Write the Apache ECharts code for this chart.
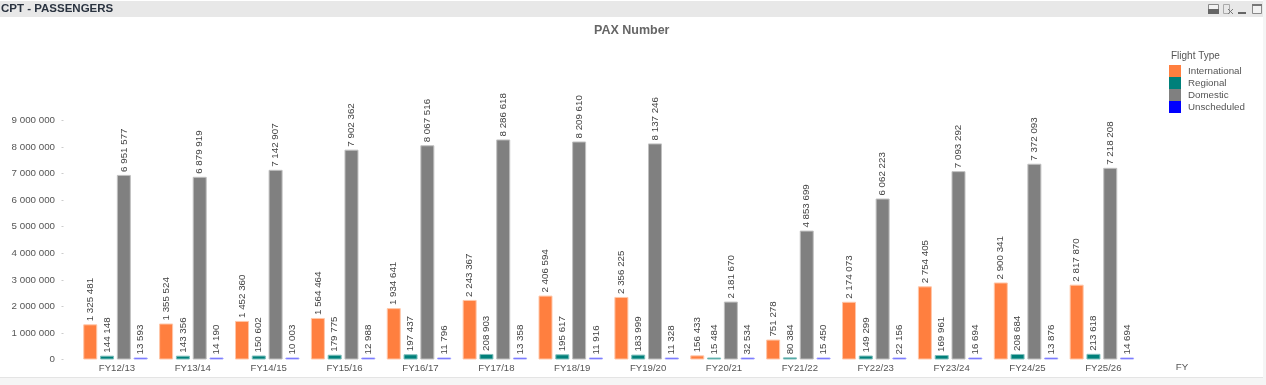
<!DOCTYPE html>
<html>
<head>
<meta charset="utf-8">
<style>
  html, body { margin: 0; padding: 0; background: #fff; }
  #main { width: 1266px; height: 385px; }
</style>
<script src="https://cdn.jsdelivr.net/npm/echarts@6/dist/echarts.min.js"></script>
</head>
<body>
<div id="main"></div>
<script>
const years = ['FY12/13','FY13/14','FY14/15','FY15/16','FY16/17','FY17/18','FY18/19','FY19/20','FY20/21','FY21/22','FY22/23','FY23/24','FY24/25','FY25/26'];
const international = [1325481,1355524,1452360,1564464,1934641,2243367,2406594,2356225,156433,751278,2174073,2754405,2900341,2817870];
const regional = [144148,143356,150602,179775,197437,208903,195617,183999,15484,80384,149299,169961,208684,213618];
const domestic = [6951577,6879919,7142907,7902362,8067516,8286618,8209610,8137246,2181670,4853699,6062223,7093292,7372093,7218208];
const unscheduled = [13593,14190,10003,12988,11796,13358,11916,11328,32534,15450,22156,16694,13876,14694];

const font = '"Liberation Sans", Arial, sans-serif';
const textColor = '#555';

// 1 325 481 style numbers
function spaced(v) {
  return String(v).replace(/\B(?=(\d{3})+$)/g, ' ');
}

function barSeries(name, data, color, edge) {
  return {
    name: name,
    type: 'bar',
    data: data,
    barWidth: 14,
    barGap: '20%',
    barMinHeight: 2,
    itemStyle: { color: color, borderColor: edge, borderWidth: 1 },
    label: {
      show: true,
      position: 'top',
      rotate: 90,
      align: 'left',
      verticalAlign: 'middle',
      distance: 3,
      color: '#444',
      fontFamily: font,
      fontSize: 9.75,
      formatter: p => spaced(p.value)
    }
  };
}

var myChart = echarts.init(document.getElementById('main'), null, { renderer: 'canvas' });
var option = {
  animation: false,
  backgroundColor: '#fff',
  title: {
    text: 'PAX Number',
    left: 589,
    top: 19,
    textStyle: { color: '#666', fontFamily: font, fontSize: 12.5, fontWeight: 'bold' }
  },
  legend: {
    orient: 'vertical',
    left: 1169,
    top: 65,
    padding: 0,
    itemWidth: 12,
    itemHeight: 12,
    itemGap: 0,
    icon: 'rect',
    selectedMode: false,
    itemStyle: { borderWidth: 0 },
    textStyle: { color: textColor, fontFamily: font, fontSize: 9.75, lineHeight: 12, padding: [0, 0, 0, 2] },
    data: ['International', 'Regional', 'Domestic', 'Unscheduled']
  },
  grid: { left: 77.5, top: 120.5, width: 1062.3, height: 239 },
  xAxis: {
    type: 'category',
    data: years,
    name: 'FY',
    nameLocation: 'end',
    nameGap: 36,
    nameTextStyle: { color: textColor, fontFamily: font, fontSize: 9.75, verticalAlign: 'top', padding: [3, 0, 0, 0] },
    axisLine: { show: false },
    axisTick: { show: false },
    axisLabel: { color: textColor, fontFamily: font, fontSize: 9.6, margin: 4, padding: [0, 0, 0, 3], interval: 0 }
  },
  yAxis: {
    type: 'value',
    min: 0,
    max: 9000000,
    interval: 1000000,
    offset: 14,
    axisLine: { show: false },
    axisTick: { show: true, length: 2, lineStyle: { color: '#ccc' } },
    splitLine: { show: false },
    axisLabel: { color: textColor, fontFamily: font, fontSize: 9.75, margin: 8.5, padding: [4, 0, 0, 0], formatter: v => spaced(v) }
  },
  series: [
    barSeries('International', international, '#ff7f3f', '#ffc6a8'),
    barSeries('Regional', regional, '#00807a', '#7fbfbc'),
    barSeries('Domestic', domestic, '#808080', '#c0c0c0'),
    barSeries('Unscheduled', unscheduled, '#0000ff', '#a6a6ff')
  ],
  graphic: [
    { type: 'rect', silent: true, z: -1, shape: { x: 0, y: 1, width: 1263, height: 16 }, style: { fill: '#e8e8e8' } },
    { type: 'rect', silent: true, z: -1, shape: { x: 0, y: 378, width: 1266, height: 7 }, style: { fill: '#f5f5f5' } },
    { type: 'rect', silent: true, z: -1, shape: { x: 0, y: 377, width: 1263, height: 1 }, style: { fill: '#e4e4e4' } },
    { type: 'rect', silent: true, z: -1, shape: { x: 1263, y: 0, width: 3, height: 385 }, style: { fill: '#f5f5f5' } },
    { type: 'text', silent: true, style: { x: 1, y: 3, text: 'CPT - PASSENGERS', fill: '#2a3340', font: 'bold 11.5px "Liberation Sans", Arial, sans-serif' } },
    // window icons in the caption bar
    { type: 'rect', silent: true, shape: { x: 1208.5, y: 4.5, width: 10, height: 9 }, style: { fill: '#f2f2f2', stroke: '#8a8a8a', lineWidth: 1 } },
    { type: 'rect', silent: true, shape: { x: 1208, y: 9, width: 11, height: 5 }, style: { fill: '#666' } },
    { type: 'rect', silent: true, shape: { x: 1223.5, y: 4.5, width: 6, height: 9 }, style: { fill: 'none', stroke: '#aaa', lineWidth: 1 } },
    { type: 'line', silent: true, shape: { x1: 1228, y1: 9, x2: 1233, y2: 14 }, style: { stroke: '#777', lineWidth: 1 } },
    { type: 'line', silent: true, shape: { x1: 1233, y1: 9, x2: 1228, y2: 14 }, style: { stroke: '#777', lineWidth: 1 } },
    { type: 'rect', silent: true, shape: { x: 1238, y: 12, width: 8, height: 2 }, style: { fill: '#666' } },
    { type: 'rect', silent: true, shape: { x: 1252.5, y: 4.5, width: 9, height: 9 }, style: { fill: '#f2f2f2', stroke: '#8a8a8a', lineWidth: 1 } },
    { type: 'rect', silent: true, shape: { x: 1252, y: 4, width: 10, height: 2 }, style: { fill: '#777' } },
    // legend heading sits above the swatches
    { type: 'text', silent: true, style: { x: 1171, y: 51, text: 'Flight Type', fill: '#555', font: '10px "Liberation Sans", Arial, sans-serif' } }
  ]
};
option && myChart.setOption(option);
</script>
</body>
</html>
